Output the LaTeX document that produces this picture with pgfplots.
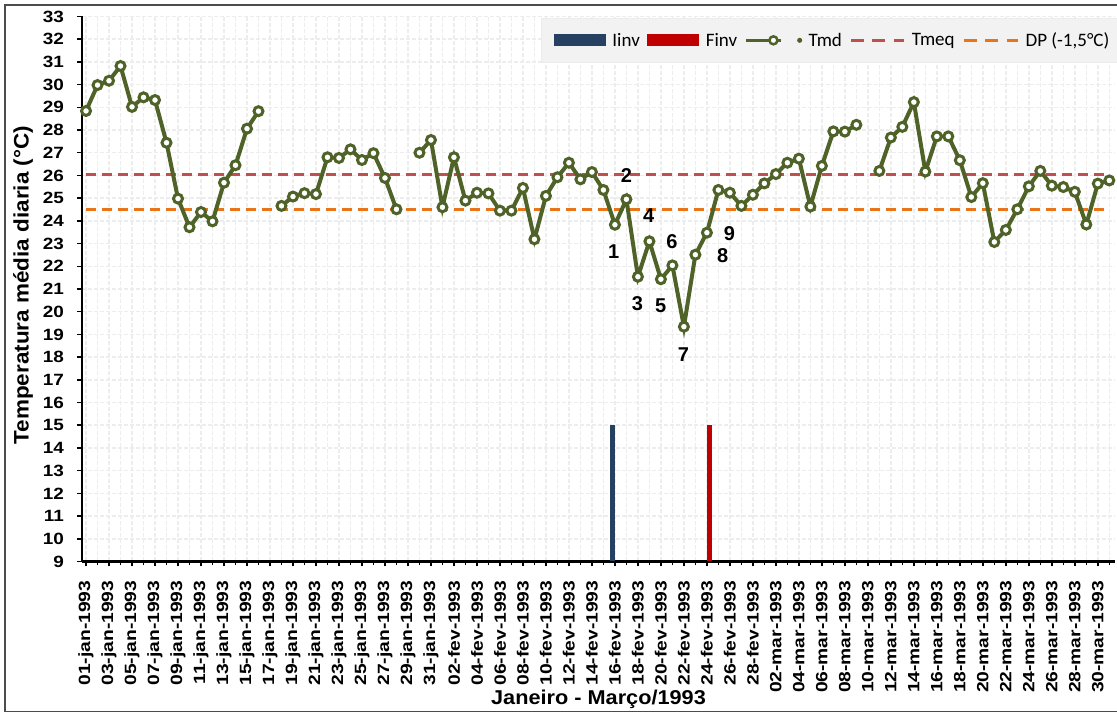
\documentclass[border=0pt]{standalone}
\usepackage{pgfplots}
\pgfplotsset{compat=1.18}
\usepackage{fontspec}
\setmainfont{Liberation Sans}
\newfontfamily\legfont{Carlito}
\definecolor{olv}{HTML}{4F6228}
\definecolor{navy}{HTML}{254061}
\definecolor{finv}{HTML}{C00000}
\definecolor{tmeq}{HTML}{C0504D}
\definecolor{dpor}{HTML}{E8751A}
\definecolor{gridc}{HTML}{EDEDED}
\pgfplotstableread{
d v
0 28.84
1 29.98
2 30.17
3 30.82
4 29.02
5 29.44
6 29.32
7 27.44
8 24.98
9 23.72
10 24.39
11 23.98
12 25.68
13 26.45
14 28.06
15 28.83
16 nan
17 24.66
18 25.07
19 25.22
20 25.18
21 26.80
22 26.77
23 27.15
24 26.68
25 26.98
26 25.89
27 24.51
28 nan
29 27.00
30 27.56
31 24.60
32 26.80
33 24.89
34 25.24
35 25.21
36 24.45
37 24.45
38 25.45
39 23.19
40 25.10
41 25.92
42 26.56
43 25.83
44 26.15
45 25.36
46 23.83
47 24.95
48 21.54
49 23.10
50 21.43
51 22.04
52 19.34
53 22.51
54 23.48
55 25.36
56 25.24
57 24.66
58 25.15
59 25.65
60 26.06
61 26.56
62 26.74
63 24.63
64 26.42
65 27.94
66 27.93
67 28.23
68 nan
69 26.20
70 27.67
71 28.14
72 29.23
73 26.17
74 27.72
75 27.72
76 26.67
77 25.05
78 25.66
79 23.07
80 23.60
81 24.51
82 25.52
83 26.20
84 25.55
85 25.49
86 25.28
87 23.84
88 25.64
89 25.78
}\tmd
\begin{document}
\begin{tikzpicture}[x=1pt,y=1pt]
\useasboundingbox (0,0) rectangle (1117,714);
\draw[line width=1.6pt, black!70] (5,2.5) rectangle (1122,709);
\begin{axis}[
  at={(82pt,152.5pt)}, anchor=south west,
  scale only axis, width=1033pt, height=545pt,
  xmin=-0.35, xmax=89.5, ymin=9, ymax=33,
  axis x line*=bottom, axis y line*=left,
  axis line style={line width=2.5pt, black},
  tick align=outside, major tick length=5pt, minor tick length=4pt,
  tick style={line width=1.5pt, black},
  ytick={9,...,33},
  xtick={0,2,...,88}, minor xtick={1,3,...,89},
  xticklabels={01-jan-1993,03-jan-1993,05-jan-1993,07-jan-1993,09-jan-1993,11-jan-1993,13-jan-1993,15-jan-1993,17-jan-1993,19-jan-1993,21-jan-1993,23-jan-1993,25-jan-1993,27-jan-1993,29-jan-1993,31-jan-1993,02-fev-1993,04-fev-1993,06-fev-1993,08-fev-1993,10-fev-1993,12-fev-1993,14-fev-1993,16-fev-1993,18-fev-1993,20-fev-1993,22-fev-1993,24-fev-1993,26-fev-1993,28-fev-1993,02-mar-1993,04-mar-1993,06-mar-1993,08-mar-1993,10-mar-1993,12-mar-1993,14-mar-1993,16-mar-1993,18-mar-1993,20-mar-1993,22-mar-1993,24-mar-1993,26-mar-1993,28-mar-1993,30-mar-1993},
  xticklabel style={font=\bfseries\fontsize{16.3}{16.3}\selectfont, rotate=90, anchor=east, xscale=1.18},
  xticklabel shift=10pt,
  yticklabel style={font=\bfseries\fontsize{16.3}{16.3}\selectfont, xscale=1.16},
  yticklabel shift=9pt,
  /pgf/number format/assume math mode=true,
  ymajorgrids, xmajorgrids, xminorgrids,
  grid style={gridc, line width=1.5pt, dash pattern=on 4pt off 2pt},
  minor grid style={gridc, line width=1.5pt, dash pattern=on 4pt off 2pt},
  xlabel={Janeiro - Março/1993},
  xlabel style={font=\bfseries\fontsize{20}{20}\selectfont, xscale=1.085, at={(axis description cs:0.5,0)}, anchor=base, yshift=-143.5pt},
  ylabel={Temperatura média diaria (°C)},
  ylabel style={font=\bfseries\fontsize{21}{21}\selectfont, xscale=1.07, at={(axis description cs:-0.057,0.507)}, anchor=center},
  legend columns=6,
  legend cell align=left,
  legend style={at={(axis description cs:1.0085,0.997)}, anchor=north east,
    draw=gray!15, fill=gray!10, line width=1pt,
    font=\legfont\fontsize{19}{19}\selectfont,
    inner xsep=12pt, inner ysep=12pt,
    /tikz/every odd column/.append style={column sep=4.5pt},
    /tikz/every even column/.append style={column sep=5.5pt}},
]
\addlegendimage{legend image code/.code={\fill[navy] (0pt,-5.5pt) rectangle (51pt,5.5pt);}}
\addlegendentry{Iinv}
\addlegendimage{legend image code/.code={\fill[finv] (0pt,-5.5pt) rectangle (51pt,5.5pt);}}
\addlegendentry{Finv}
\addlegendimage{legend image code/.code={\draw[olv, line width=3.5pt] (0pt,0pt) -- (35pt,0pt); \draw[olv, fill=white, line width=2.5pt] (27pt,0pt) circle (4pt);}}
\addlegendentry{}
\addlegendimage{legend image code/.code={\fill[olv] (3pt,0pt) circle (2pt);}}
\addlegendentry{Tmd}
\addlegendimage{legend image code/.code={\draw[tmeq, line width=3pt, dash pattern=on 13pt off 8.5pt] (0pt,0pt) -- (53pt,0pt);}}
\addlegendentry{Tmeq}
\addlegendimage{legend image code/.code={\draw[dpor, line width=3pt, dash pattern=on 13pt off 8.5pt] (0pt,0pt) -- (54pt,0pt);}}
\addlegendentry{DP (-1,5°C)}

\addplot[ybar, bar width=5pt, bar shift=0pt, fill=navy, draw=none, forget plot] coordinates {(45.75,15)};
\addplot[ybar, bar width=5pt, bar shift=0pt, fill=finv, draw=none, forget plot] coordinates {(54.2,15)};
\addplot[tmeq, line width=3pt, dash pattern=on 10pt off 6pt, forget plot] coordinates {(0,26.03) (89,26.03)};
\addplot[dpor, line width=3pt, dash pattern=on 10pt off 6pt, forget plot] coordinates {(0,24.5) (89,24.5)};
\addplot[olv, line width=4pt, unbounded coords=jump, mark=*, mark size=4.5pt,
  mark options={solid, fill=white, draw=olv, line width=3pt}, forget plot] table[x=d, y=v] {\tmd};

\begin{scope}[every node/.style={font=\bfseries\fontsize{20}{20}\selectfont, inner sep=0pt}]
\node at (axis cs:45.9,22.63) {1};
\node at (axis cs:47.0,25.98) {2};
\node at (axis cs:47.95,20.34) {3};
\node at (axis cs:48.94,24.22) {4};
\node at (axis cs:49.99,20.25) {5};
\node at (axis cs:50.97,23.1) {6};
\node at (axis cs:51.95,18.11) {7};
\node at (axis cs:55.38,22.48) {8};
\node at (axis cs:55.95,23.45) {9};
\end{scope}
\end{axis}
\end{tikzpicture}
\end{document}
